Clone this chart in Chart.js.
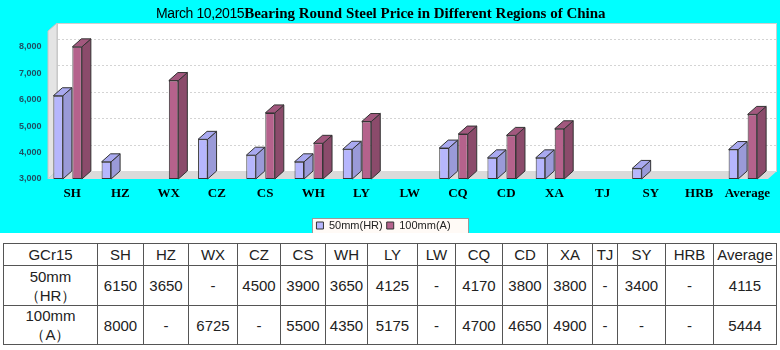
<!DOCTYPE html>
<html>
<head>
<meta charset="utf-8">
<script src="https://cdn.jsdelivr.net/npm/chart.js@4"></script>
<style>
  html, body { margin: 0; padding: 0; background: #fff; }
  #page { position: relative; width: 780px; height: 350px; overflow: hidden; }
  #chartBox { position: absolute; left: 0; top: 0; width: 780px; height: 233px; background: #00ffff; }
  #title { position: absolute; left: 156px; top: 4px; white-space: nowrap; color: #000; line-height: 18px; }
  #title .d { font-family: "Liberation Sans", Arial, sans-serif; font-size: 14px; letter-spacing: -0.4px; }
  #title .t { font-family: "Liberation Serif", "Times New Roman", serif; font-size: 15px; font-weight: bold; }
  table { position: absolute; left: 3px; top: 243px; border-collapse: collapse; table-layout: fixed;
          font-family: "Liberation Sans", Arial, sans-serif; font-size: 15px; color: #222; }
  td { border: 1px solid #555; text-align: center; padding: 0; line-height: 19px; }
  tr.h td { height: 21px; }
  tr.r1 td { height: 39px; }
  tr.r2 td { height: 38px; }
</style>
</head>
<body>
<div id="page">
  <div id="chartBox">
    <canvas id="c" width="780" height="233"></canvas>
    <div id="title"><span class="d">March 10,2015</span><span class="t">Bearing Round Steel Price in Different Regions of China</span></div>
  </div>
  <table id="tbl"></table>
</div>
<script>
// Regions and prices (yuan/ton); null where no quote was given
const regions = ['SH', 'HZ', 'WX', 'CZ', 'CS', 'WH', 'LY', 'LW', 'CQ', 'CD', 'XA', 'TJ', 'SY', 'HRB', 'Average'];
const price50mm = [6150, 3650, null, 4500, 3900, 3650, 4125, null, 4170, 3800, 3800, null, 3400, null, 4115];
const price100mm = [8000, null, 6725, null, 5500, 4350, 5175, null, 4700, 4650, 4900, null, null, null, 5444];
const seriesNames = ['50mm(HR)', '100mm(A)'];
const rowHeads = ['50mm<br>（HR）', '100mm<br>（A）'];
const gradeLabel = 'GCr15';
const yTicks = [3000, 4000, 5000, 6000, 7000, 8000];
const yMin = yTicks[0];

// Table column widths
const colWidths = [94, 46, 45, 49, 43, 45, 42, 50, 38, 47, 45, 45, 25, 48, 48, 63];

// Build the price table under the chart
(function buildTable() {
  const t = document.getElementById('tbl');
  let html = '<colgroup>' + colWidths.map(w => `<col style="width:${w}px">`).join('') + '</colgroup>';
  html += '<tr class="h"><td>' + gradeLabel + '</td>' + regions.map(r => `<td>${r}</td>`).join('') + '</tr>';
  [price50mm, price100mm].forEach((arr, i) => {
    html += `<tr class="r${i + 1}"><td>${rowHeads[i]}</td>` +
      arr.map(v => `<td>${v == null ? '-' : v}</td>`).join('') + '</tr>';
  });
  t.innerHTML = html;
})();

// 3D depth of the bars and the plot box
const DX = 9, DY = 8;

const faceColors = [
  { side: '#9a9ad8', top: '#a9a9f0' },
  { side: '#8b4b6b', top: '#a2587e' }
];

// Draws the back wall, left wall, floor and back-wall gridlines
const frame3d = {
  id: 'frame3d',
  beforeDatasetsDraw(chart) {
    const { ctx, chartArea: a, scales: { y } } = chart;
    const L = a.left + 4.5, R = a.right + 1, T = a.top, B = a.bottom;
    ctx.save();
    // back wall
    ctx.fillStyle = '#ffffff';
    ctx.fillRect(L + DX, T - DY, R - L, B - T);
    ctx.strokeStyle = '#cfcfcf';
    ctx.lineWidth = 1;
    ctx.strokeRect(L + DX + 0.5, T - DY + 0.5, R - L - 1, B - T);
    // left wall
    ctx.beginPath();
    ctx.moveTo(L, T); ctx.lineTo(L + DX, T - DY); ctx.lineTo(L + DX, B - DY); ctx.lineTo(L, B);
    ctx.closePath();
    ctx.fillStyle = '#e4e4e4'; ctx.fill();
    ctx.strokeStyle = '#c4c4c4'; ctx.stroke();
    // floor
    ctx.beginPath();
    ctx.moveTo(L, B); ctx.lineTo(L + DX, B - DY); ctx.lineTo(R + DX, B - DY); ctx.lineTo(R, B);
    ctx.closePath();
    ctx.fillStyle = '#dadada'; ctx.fill();
    // dotted gridlines on the back wall
    ctx.setLineDash([2, 2]);
    ctx.strokeStyle = '#d4d4d4';
    y.ticks.forEach(t => {
      if (t.value <= y.min) return;
      const py = Math.round(y.getPixelForValue(t.value) - DY) + 0.5;
      ctx.beginPath(); ctx.moveTo(L + DX + 1, py); ctx.lineTo(R + DX - 1, py); ctx.stroke();
    });
    ctx.restore();
  },
  afterDatasetsDraw(chart) {
    const { ctx, chartArea: a } = chart;
    ctx.save();
    ctx.strokeStyle = '#333';
    ctx.lineWidth = 1;
    chart.data.datasets.forEach((ds, i) => {
      const meta = chart.getDatasetMeta(i);
      meta.data.forEach((bar, j) => {
        if (ds.data[j] == null) return;
        const p = bar.getProps(['x', 'y', 'base', 'width'], true);
        const x = p.x, y = p.y, width = p.width;
        const base = Math.min(p.base, a.bottom);
        const l = x - width / 2, r = x + width / 2;
        // side face
        ctx.beginPath();
        ctx.moveTo(r, y); ctx.lineTo(r + DX, y - DY); ctx.lineTo(r + DX, base - DY); ctx.lineTo(r, base);
        ctx.closePath();
        ctx.fillStyle = faceColors[i].side; ctx.fill(); ctx.stroke();
        // top face
        ctx.beginPath();
        ctx.moveTo(l, y); ctx.lineTo(l + DX, y - DY); ctx.lineTo(r + DX, y - DY); ctx.lineTo(r, y);
        ctx.closePath();
        ctx.fillStyle = faceColors[i].top; ctx.fill(); ctx.stroke();
      });
    });
    ctx.restore();
  }
};

// White box with grey border behind the legend items
const legendBox = {
  id: 'legendBox',
  beforeDraw(chart) {
    const lg = chart.legend;
    if (!lg || !lg.legendHitBoxes || !lg.legendHitBoxes.length) return;
    const hb = lg.legendHitBoxes;
    const x0 = Math.min(...hb.map(b => b.left)) - 4;
    const x1 = Math.max(...hb.map(b => b.left + b.width)) + 18;
    const y0 = Math.min(...hb.map(b => b.top)) - 2;
    const y1 = Math.max(...hb.map(b => b.top + b.height)) + 2;
    const ctx = chart.ctx;
    ctx.save();
    ctx.fillStyle = '#fffaf6';
    ctx.fillRect(x0, y0, x1 - x0, y1 - y0);
    ctx.strokeStyle = '#9a9a9a';
    ctx.lineWidth = 1;
    ctx.strokeRect(Math.round(x0) + 0.5, Math.round(y0) + 0.5, Math.round(x1 - x0), Math.round(y1 - y0));
    ctx.restore();
  }
};

new Chart(document.getElementById('c'), {
  type: 'bar',
  data: {
    labels: regions,
    datasets: [
      { label: seriesNames[0], data: price50mm, base: yMin, backgroundColor: '#b6b6fd', borderColor: '#333', borderWidth: 1, borderSkipped: false },
      { label: seriesNames[1], data: price100mm, base: yMin, backgroundColor: '#b5628c', borderColor: '#333', borderWidth: 1, borderSkipped: false }
    ]
  },
  options: {
    responsive: false,
    animation: false,
    devicePixelRatio: 1,
    layout: { padding: { top: 31, right: 13, left: 0, bottom: -8 } },
    datasets: { bar: { categoryPercentage: 0.788, barPercentage: 0.5 } },
    scales: {
      x: {
        grid: { display: false, drawTicks: false, tickLength: 0 },
        border: { display: false },
        ticks: {
          color: '#000',
          font: { family: '"Liberation Serif", "Times New Roman", serif', size: 13, weight: 'bold' },
          padding: 7,
          labelOffset: 4.5,
          maxRotation: 0,
          autoSkip: false
        },
        afterFit(s) { s.height = 37; }
      },
      y: {
        min: yMin,
        max: 8600,
        grid: { display: false, drawTicks: false, tickLength: 0 },
        border: { display: false },
        afterBuildTicks(s) { s.ticks = yTicks.map(v => ({ value: v })); },
        ticks: {
          color: '#1f4f63',
          font: { family: '"Liberation Sans", Arial, sans-serif', size: 9, weight: 'bold' },
          padding: 2,
          callback: v => v.toLocaleString('en-US')
        },
        afterFit(s) { s.width = 43.5; }
      }
    },
    plugins: {
      legend: {
        position: 'bottom',
        labels: {
          boxWidth: 7, boxHeight: 7, padding: 4,
          color: '#222',
          font: { family: '"Liberation Sans", Arial, sans-serif', size: 11 }
        }
      },
      tooltip: { enabled: false },
      title: { display: false }
    }
  },
  plugins: [frame3d, legendBox]
});
</script>
</body>
</html>
